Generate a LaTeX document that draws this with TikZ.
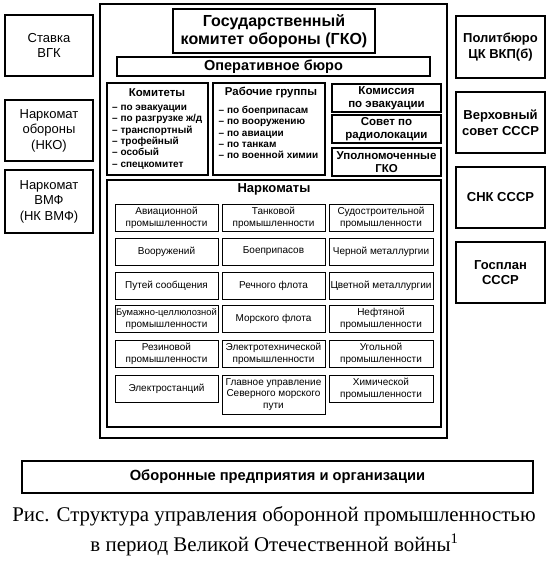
\documentclass[tikz,border=0pt]{standalone}
\usepackage{fontspec}
\setmainfont{Liberation Serif}
\setsansfont{Liberation Sans}
\begin{document}
\begin{tikzpicture}[x=1pt,y=-1pt,
  box/.style={draw, line width=1.2pt, inner sep=0pt, align=center, font=\sffamily},
  side/.style={box, font=\sffamily\fontsize{13}{15.5}\selectfont},
  sideb/.style={box, font=\sffamily\bfseries\fontsize{13}{15.5}\selectfont},
  cell/.style={box, line width=1pt, minimum height=27, font=\sffamily\fontsize{10}{11.7}\selectfont},
  small/.style={box, font=\sffamily\bfseries\fontsize{11.5}{13}\selectfont},
  lbl/.style={inner sep=0pt, font=\sffamily\bfseries\fontsize{11.4}{13}\selectfont},
  items/.style={inner sep=0pt, align=left, font=\sffamily\bfseries\fontsize{10}{11.3}\selectfont},
  captxt/.style={inner sep=0pt, font=\rmfamily\fontsize{20.9}{24}\selectfont}]
\useasboundingbox (0,0) rectangle (550,561);
% outer frame
\node[draw, line width=1.8pt, inner sep=0pt, minimum width=347, minimum height=434] (frame) at (273.5,221) {};
% left boxes
\node[side, minimum width=88, minimum height=61] (stavka) at (49,45.5) {Ставка\\ВГК};
\node[side, minimum width=88, minimum height=61] (nko) at (49,130.5) {Наркомат\\обороны\\(НКО)};
\node[side, minimum width=88, minimum height=63] (nkvmf) at (49,201.5) {Наркомат\\ВМФ\\(НК ВМФ)};
% right boxes
\node[sideb, minimum width=89, minimum height=62] (polit) at (500.5,47) {Политбюро\\ЦК ВКП(б)};
\node[sideb, minimum width=89, minimum height=61] (verkh) at (500.5,122.5) {Верховный\\совет СССР};
\node[sideb, minimum width=89, minimum height=61] (snk) at (500.5,197.5) {СНК СССР};
\node[sideb, minimum width=89, minimum height=61] (gosplan) at (500.5,272.5) {Госплан\\СССР};
% GKO
\node[box, minimum width=202, minimum height=44, font=\sffamily\bfseries\fontsize{16}{18}\selectfont] (gko) at (274,31) {Государственный\\комитет обороны (ГКО)};
\node[box, minimum width=313, minimum height=19, font=\sffamily\bfseries\fontsize{14.5}{16}\selectfont] (opburo) at (273.5,66.5) {Оперативное бюро};
% committees
\node[box, minimum width=101, minimum height=92] (komitety) at (157.5,129) {};
\node[lbl] (komt) at (157,93) {Комитеты};
\node[items, anchor=north west] (komi) at (112,105) {– по эвакуации\\– по разгрузке ж/д\\– транспортный\\– трофейный\\– особый\\– спецкомитет};
\node[box, minimum width=112, minimum height=92] (rabgr) at (269,129) {};
\node[lbl] (rabt) at (271,93) {Рабочие группы};
\node[items, anchor=north west] (rabi) at (218.5,106) {– по боеприпасам\\– по вооружению\\– по авиации\\– по танкам\\– по военной химии};
\node[small, minimum width=109, minimum height=28] (komiss) at (386.5,98) {Комиссия\\по эвакуации};
\node[small, minimum width=109, minimum height=28] (sovet) at (386.5,129) {Совет по\\радиолокации};
\node[small, minimum width=109, minimum height=28] (upoln) at (386.5,162) {Уполномоченные\\ГКО};
% narkomaty
\node[box, minimum width=334, minimum height=247] (narkomaty) at (274,303.5) {};
\node[lbl, font=\sffamily\bfseries\fontsize{13}{15}\selectfont] (nart) at (274,189) {Наркоматы};
% grid
\node[cell, minimum width=103] (a1) at (166.5,217.5) {Авиационной\\промышленности};
\node[cell, minimum width=103] (b1) at (273.5,217.5) {Танковой\\промышленности};
\node[cell, minimum width=104] (c1) at (381,217.5) {Судостроительной\\промышленности};
\node[cell, minimum width=103] (a2) at (166.5,251.5) {Вооружений};
\node[cell, minimum width=103] (b2) at (273.5,251.5) {Боеприпасов};
\node[cell, minimum width=104] (c2) at (381,251.5) {Черной металлургии};
\node[cell, minimum width=103] (a3) at (166.5,285.5) {Путей сообщения};
\node[cell, minimum width=103] (b3) at (273.5,285.5) {Речного флота};
\node[cell, minimum width=104] (c3) at (381,285.5) {Цветной металлургии};
\node[cell, minimum width=103] (a4) at (166.5,319) {{\fontsize{9.4}{11.7}\selectfont Бумажно-целлюлозной}\\промышленности};
\node[cell, minimum width=103] (b4) at (273.5,319) {Морского флота};
\node[cell, minimum width=104] (c4) at (381,319) {Нефтяной\\промышленности};
\node[cell, minimum width=103] (a5) at (166.5,354) {Резиновой\\промышленности};
\node[cell, minimum width=103] (b5) at (273.5,354) {Электротехнической\\промышленности};
\node[cell, minimum width=104] (c5) at (381,354) {Угольной\\промышленности};
\node[cell, minimum width=103] (a6) at (166.5,388.5) {Электростанций};
\node[cell, minimum width=103, minimum height=39] (b6) at (273.5,394.5) {Главное управление\\Северного морского\\пути};
\node[cell, minimum width=104] (c6) at (381,388.5) {Химической\\промышленности};
% bottom
\node[box, minimum width=511, minimum height=32, font=\sffamily\bfseries\fontsize{14.7}{16}\selectfont] (oboron) at (277.5,477) {Оборонные предприятия и организации};
\node[captxt] (cap1) at (274,516.5) {Рис. Структура управления оборонной промышленностью};
\node[captxt] (cap2) at (274.5,545) {в период Великой Отечественной войны\textsuperscript{1}};
\end{tikzpicture}
\end{document}
